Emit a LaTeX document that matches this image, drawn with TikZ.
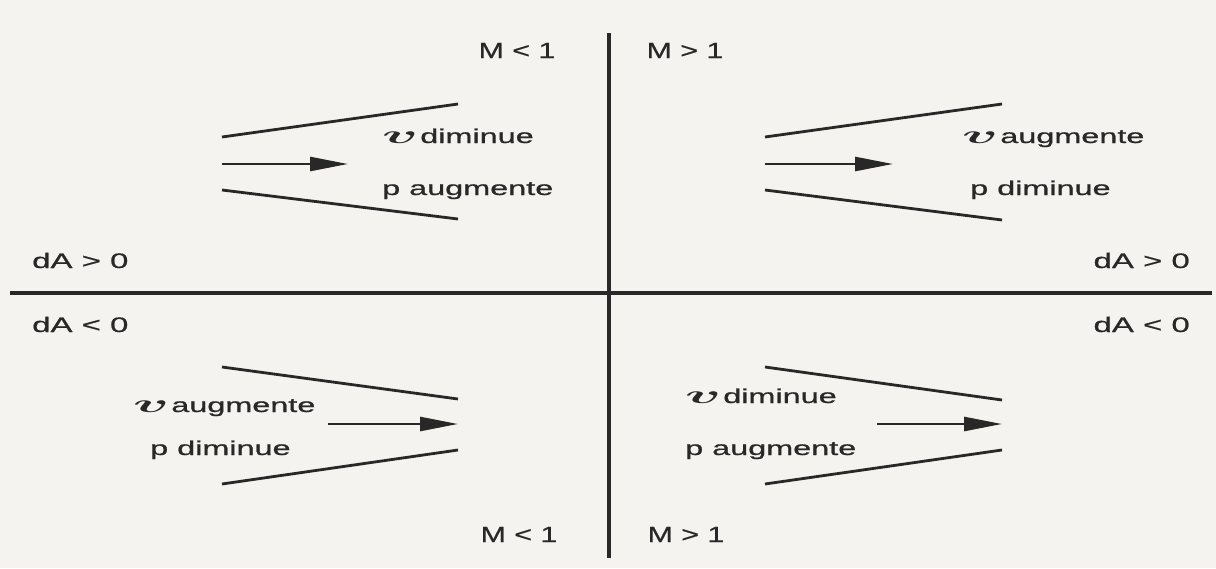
\RequirePackage{fix-cm}
\documentclass[tikz,border=0pt]{standalone}
\usepackage{fontspec}
\setmainfont{Liberation Sans}[FakeBold=0.6]
\newfontfamily\labfont{Liberation Sans}[FakeBold=0.6]
\usetikzlibrary{arrows.meta}
\definecolor{paper}{RGB}{244,243,240}
\definecolor{ink}{RGB}{40,40,40}
\newcommand{\wide}[1]{\scalebox{1.62}[1]{#1}}
\newcommand{\wideM}[1]{\scalebox{1.38}[1]{#1}}
\newcommand{\wideA}[1]{\scalebox{1.57}[1]{#1}}
\newcommand{\vv}{\scalebox{2.3}[1]{\fontsize{26}{30}\selectfont\boldmath$v$}}
\tikzset{
  axis/.style={line width=4.2pt, draw=ink},
  wall/.style={line width=2.8pt, draw=ink},
  flow/.style={line width=2.6pt, draw=ink, -{Triangle[length=38pt,width=14pt]}},
  lbl/.style={inner sep=0pt, anchor=base west, text=ink, font=\labfont\fontsize{20}{24}\selectfont},
  mlbl/.style={inner sep=0pt, anchor=base, text=ink, font=\labfont\fontsize{22}{26}\selectfont},
  albl/.style={inner sep=0pt, anchor=base west, text=ink, font=\labfont\fontsize{21}{25}\selectfont}
}
\begin{document}
\begin{tikzpicture}[x=1pt,y=-1pt]
\fill[paper] (0,0) rectangle (1216,568);
\useasboundingbox (0,0) rectangle (1216,568);
% axes
\coordinate (vt) at (609,33);
\coordinate (vb) at (609,558);
\coordinate (hl) at (10,293);
\coordinate (hr) at (1212,293);
\draw[axis] (vt) -- (vb);
\draw[axis] (hl) -- (hr);
% axis labels
\node[mlbl] (mtl) at (517,58) {\wideM{M < 1}};
\node[mlbl] (mtr) at (685,58) {\wideM{M > 1}};
\node[mlbl] (mbl) at (519,542) {\wideM{M < 1}};
\node[mlbl] (mbr) at (686,542) {\wideM{M > 1}};
\node[albl] (dapl) at (32,268) {\wideA{dA > 0}};
\node[albl,anchor=base east] (dapr) at (1190,268) {\wideA{dA > 0}};
\node[albl] (danl) at (32,332) {\wideA{dA < 0}};
\node[albl,anchor=base east] (danr) at (1190,332) {\wideA{dA < 0}};
% top-left quadrant (diverging)
\coordinate (tl1a) at (222,137); \coordinate (tl1b) at (458,104);
\coordinate (tl2a) at (222,190); \coordinate (tl2b) at (458,219);
\coordinate (tlfa) at (222,164); \coordinate (tlfb) at (348,164);
\draw[wall] (tl1a) -- (tl1b);
\draw[wall] (tl2a) -- (tl2b);
\draw[flow] (tlfa) -- (tlfb);
\node[lbl] (tlv) at (382,143) {\vv\hspace{2pt}\wide{diminue}};
\node[lbl] (tlp) at (382,195) {\wide{p augmente}};
% top-right quadrant (diverging)
\coordinate (tr1a) at (765,137); \coordinate (tr1b) at (1002,104);
\coordinate (tr2a) at (765,190); \coordinate (tr2b) at (1002,220);
\coordinate (trfa) at (765,164); \coordinate (trfb) at (893,164);
\draw[wall] (tr1a) -- (tr1b);
\draw[wall] (tr2a) -- (tr2b);
\draw[flow] (trfa) -- (trfb);
\node[lbl] (trv) at (962,143) {\vv\hspace{2pt}\wide{augmente}};
\node[lbl] (trp) at (970,195) {\wide{p diminue}};
% bottom-left quadrant (converging)
\coordinate (bl1a) at (222,367); \coordinate (bl1b) at (458,399);
\coordinate (bl2a) at (222,484); \coordinate (bl2b) at (458,450);
\coordinate (blfa) at (328,424); \coordinate (blfb) at (458,424);
\draw[wall] (bl1a) -- (bl1b);
\draw[wall] (bl2a) -- (bl2b);
\draw[flow] (blfa) -- (blfb);
\node[lbl] (blv) at (133,412) {\vv\hspace{2pt}\wide{augmente}};
\node[lbl] (blp) at (150,455) {\wide{p diminue}};
% bottom-right quadrant (converging)
\coordinate (br1a) at (765,367); \coordinate (br1b) at (1002,400);
\coordinate (br2a) at (765,484); \coordinate (br2b) at (1002,450);
\coordinate (brfa) at (877,424); \coordinate (brfb) at (1002,424);
\draw[wall] (br1a) -- (br1b);
\draw[wall] (br2a) -- (br2b);
\draw[flow] (brfa) -- (brfb);
\node[lbl] (brv) at (685,403) {\vv\hspace{2pt}\wide{diminue}};
\node[lbl] (brp) at (685,455) {\wide{p augmente}};
\end{tikzpicture}
\end{document}
